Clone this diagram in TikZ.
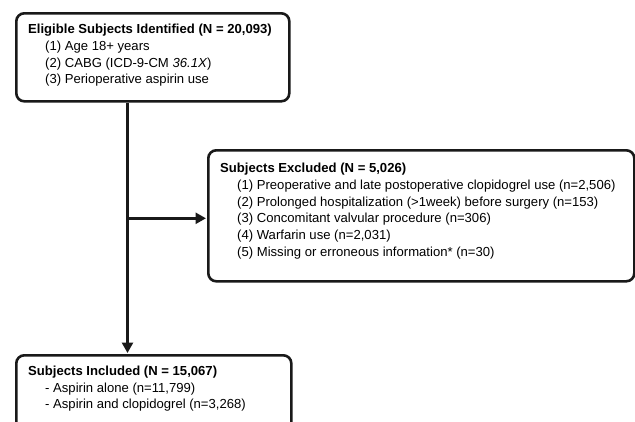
\documentclass[tikz,border=0pt]{standalone}
\usepackage{fontspec}
\setmainfont{Liberation Sans}
\usetikzlibrary{arrows.meta}
\begin{document}
\begin{tikzpicture}[x=1pt,y=-1pt,
  box/.style={draw=black!90, line width=2.6pt, rounded corners=8pt, anchor=north west, inner sep=0pt, fill=white},
  txt/.style={anchor=base west, inner sep=0pt, font=\fontsize{13.1}{15}\selectfont},
  ttl/.style={txt, font=\fontsize{13.1}{15}\selectfont\bfseries},
  conn/.style={draw=black!90, line width=2.6pt, -{Triangle[length=10.5pt,width=11pt]}, shorten >=1pt}]
\useasboundingbox (0,0) rectangle (635,421);
\clip (0,0) rectangle (635,421);
\node[box, minimum width=273pt, minimum height=88pt] (elig) at (15,12) {};
\node[box, minimum width=426pt, minimum height=131pt] (excl) at (207,149) {};
\node[box, minimum width=275pt, minimum height=90pt] (incl) at (15,354) {};
\coordinate (split) at (127.5,218.3);
\draw[conn] (elig.south -| split) -- (incl.north -| split);
\draw[conn] (split) -- (split -| excl.west);
% box 1 text
\node[ttl] (t1) at (28,33) {Eligible Subjects Identified (N = 20,093)};
\node[txt] (t1a) at (45,50) {(1) Age 18+ years};
\node[txt] (t1b) at (45,67) {(2) CABG (ICD-9-CM \textit{36.1X})};
\node[txt] (t1c) at (45,83) {(3) Perioperative aspirin use};
% box 2 text
\node[ttl] (t2) at (220,172) {Subjects Excluded (N = 5,026)};
\node[txt] (t2a) at (237,189) {(1) Preoperative and late postoperative clopidogrel use (n=2,506)};
\node[txt] (t2b) at (237,206) {(2) Prolonged hospitalization (>1week) before surgery (n=153)};
\node[txt] (t2c) at (237,222.5) {(3) Concomitant valvular procedure (n=306)};
\node[txt] (t2d) at (237,239) {(4) Warfarin use (n=2,031)};
\node[txt] (t2e) at (237,256) {(5) Missing or erroneous information* (n=30)};
% box 3 text
\node[ttl] (t3) at (28,375) {Subjects Included (N = 15,067)};
\node[txt] (t3a) at (45,392) {- Aspirin alone (n=11,799)};
\node[txt] (t3b) at (45,408) {- Aspirin and clopidogrel (n=3,268)};
\end{tikzpicture}
\end{document}
